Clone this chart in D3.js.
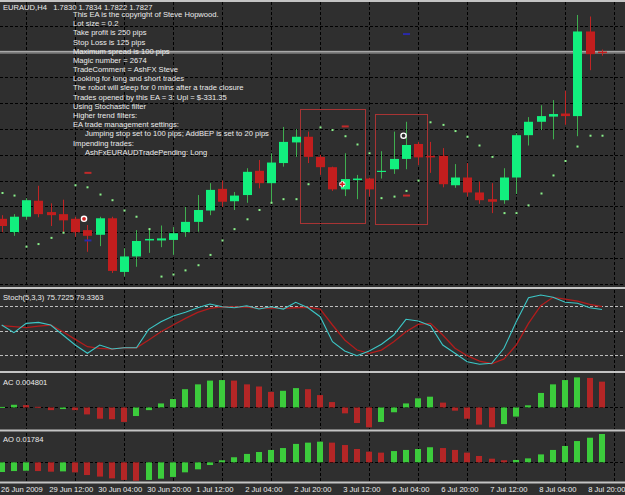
<!DOCTYPE html>
<html>
<head>
<meta charset="utf-8">
<script src="https://cdn.jsdelivr.net/npm/d3@7"></script>
<style>
  html, body { margin: 0; padding: 0; background: #2f2f2f; }
  svg { display: block; }
</style>
</head>
<body>
<div id="chart"></div>
<script>
// EURAUD H4 - MT4 style chart with EA comment, Stoch, AC and AO windows

const symbolHeader = 'EURAUD,H4\u00a0\u00a0 1.7830 1.7834 1.7822 1.7827';

const opens  = [1.7506, 1.7480, 1.7510, 1.7541, 1.7519, 1.7515, 1.7506, 1.7484, 1.7475, 1.7507,
                1.7403, 1.7433, 1.7464, 1.7464, 1.7465, 1.7480, 1.7500, 1.7522, 1.7564, 1.7540,
                1.7552, 1.7599, 1.7575, 1.7614, 1.7654, 1.7665, 1.7626, 1.7606, 1.7563, 1.7581,
                1.7584, 1.7597, 1.7602, 1.7622, 1.7651, 1.7628, 1.7628, 1.7571, 1.7586, 1.7557,
                1.7544, 1.7542, 1.7586, 1.7668, 1.7694, 1.7704, 1.7710, 1.7705, 1.7869, 1.7830];
const highs  = [1.7513, 1.7515, 1.7546, 1.7570, 1.7536, 1.7543, 1.7510, 1.7494, 1.7510, 1.7510,
                1.7449, 1.7484, 1.7487, 1.7493, 1.7490, 1.7529, 1.7552, 1.7575, 1.7580, 1.7558,
                1.7604, 1.7620, 1.7633, 1.7684, 1.7680, 1.7675, 1.7630, 1.7607, 1.7633, 1.7591,
                1.7586, 1.7637, 1.7675, 1.7694, 1.7655, 1.7655, 1.7643, 1.7612, 1.7614, 1.7578,
                1.7575, 1.7604, 1.7672, 1.7703, 1.7726, 1.7736, 1.7754, 1.7901, 1.7898, 1.7834];
const lows   = [1.7480, 1.7473, 1.7504, 1.7509, 1.7492, 1.7480, 1.7471, 1.7442, 1.7453, 1.7401,
                1.7394, 1.7413, 1.7440, 1.7451, 1.7436, 1.7471, 1.7481, 1.7513, 1.7529, 1.7523,
                1.7537, 1.7565, 1.7536, 1.7607, 1.7626, 1.7614, 1.7591, 1.7560, 1.7550, 1.7544,
                1.7549, 1.7584, 1.7593, 1.7602, 1.7610, 1.7595, 1.7567, 1.7566, 1.7549, 1.7535,
                1.7517, 1.7535, 1.7554, 1.7648, 1.7678, 1.7660, 1.7688, 1.7666, 1.7794, 1.7822];
const closes = [1.7492, 1.7510, 1.7542, 1.7515, 1.7513, 1.7503, 1.7480, 1.7473, 1.7507, 1.7405,
                1.7433, 1.7463, 1.7467, 1.7468, 1.7478, 1.7500, 1.7523, 1.7562, 1.7539, 1.7551,
                1.7597, 1.7575, 1.7615, 1.7655, 1.7665, 1.7626, 1.7606, 1.7563, 1.7583, 1.7584,
                1.7563, 1.7599, 1.7622, 1.7649, 1.7625, 1.7625, 1.7573, 1.7586, 1.7557, 1.7542,
                1.7539, 1.7586, 1.7668, 1.7694, 1.7705, 1.7709, 1.7705, 1.7869, 1.7825, 1.7827];

// green dots (trailing SAR-like levels)
const sarValues = [1.7556, 1.7551, 1.7452, 1.7457, 1.7469, 1.7479, 1.7571, 1.7567, 1.7553, 1.7542,
                   1.7522, 1.7510, 1.7486, 1.7394, 1.7398, 1.7406, 1.7416, 1.7436, 1.7464, 1.7486,
                   1.7505, 1.7523, 1.7537, 1.7544, 1.7544, 1.7573, 1.7683, 1.7678, 1.7666, 1.7650,
                   1.7633, 1.7546, 1.7549, 1.7560, 1.7580, 1.7693, 1.7688, 1.7676, 1.7665, 1.7648,
                   1.7626, 1.7517, 1.7517, 1.7532, 1.7555, 1.7590, 1.7618, 1.7646, 1.7667, 1.7667];

const stochMain   = [56.9, 47.5, 58.9, 60.1, 56.9, 44.7, 32.5, 22.4, 32.5, 27.6,
                     29.2, 29.2, 51.6, 60.9, 67.8, 72.3, 77.9, 82.4, 79.1, 77.9,
                     80.4, 76.3, 79.1, 76.3, 84.5, 77.9, 67.0, 36.5, 25.2, 19.5,
                     25.2, 33.4, 44.7, 63.8, 61.7, 56.0, 32.5, 22.4, 12.2, 9.0,
                     10.2, 28.5, 60.9, 90.1, 93.4, 90.6, 84.5, 83.3, 77.9, 75.7];
const stochSignal = [56.0, 54.8, 53.6, 55.6, 56.9, 48.7, 39.4, 30.4, 28.5, 27.6,
                     29.2, 29.2, 38.6, 48.7, 56.9, 65.0, 72.3, 77.2, 79.1, 78.8,
                     78.8, 77.2, 77.9, 77.2, 77.9, 78.5, 76.3, 56.9, 38.6, 26.4,
                     22.4, 26.4, 36.5, 48.7, 57.7, 58.9, 44.7, 28.5, 19.5, 13.0,
                     9.7, 15.5, 32.5, 58.9, 80.4, 90.6, 88.5, 86.1, 82.1, 79.3];
const stochLevels = [20, 50, 80];

const acValues = [0.0001, 0.0005, 0.00044, 0.00012, -0.0005, -0.0003, -0.0005, -0.0013, -0.0021, -0.0022,
                  -0.0027, -0.0016, -0.0005, 0.00075, 0.00156, 0.0034, 0.0043, 0.0050, 0.0051, 0.0050,
                  0.0043, 0.0039, 0.0029, 0.0031, 0.0036, 0.0034, 0.0023, 0.0010, -0.0011, -0.0029,
                  -0.0037, -0.0027, -0.0009, 0.00075, 0.0017, 0.0020, 0.0009, -0.0006, -0.0021, -0.0032,
                  -0.0037, -0.0031, -0.0017, 0.0004, 0.0027, 0.0043, 0.0051, 0.0056, 0.0055, 0.004801];
const aoValues = [-0.0061, -0.0055, -0.0053, -0.0055, -0.0059, -0.0057, -0.0063, -0.0080, -0.0090, -0.0101,
                  -0.0111, -0.0116, -0.0111, -0.0103, -0.0092, -0.0063, -0.0044, -0.0017, 0.0013, 0.0032,
                  0.0053, 0.0065, 0.0078, 0.0090, 0.0116, 0.0124, 0.0130, 0.0124, 0.0109, 0.0084,
                  0.0067, 0.0061, 0.0071, 0.0078, 0.0084, 0.0095, 0.0090, 0.0078, 0.0061, 0.0040,
                  0.0023, 0.0013, 0.0015, 0.0025, 0.0050, 0.0078, 0.0103, 0.0134, 0.0155, 0.01784];

const timeLabels = ['26 Jun 2009', '29 Jun 12:00', '30 Jun 04:00', '30 Jun 20:00', '1 Jul 12:00',
                    '2 Jul 04:00', '2 Jul 20:00', '3 Jul 12:00', '6 Jul 04:00', '6 Jul 20:00',
                    '7 Jul 12:00', '8 Jul 04:00', '8 Jul 20:00'];
const labelBars = [0, 4, 8, 12, 16, 20, 24, 28, 32, 36, 40, 44, 48];
const gridBars = [2, 6, 10, 14, 18, 22, 26, 30, 34, 38, 42, 46, 50];
const gridPrices = [1.7380, 1.7430, 1.7480, 1.7530, 1.7580, 1.7630, 1.7680, 1.7730, 1.7780, 1.7830, 1.7880];

const commentLines = [
  'This EA is the copyright of Steve Hopwood.',
  'Lot size = 0.2',
  'Take profit is 250 pips',
  'Stop Loss is 125 pips',
  'Maximum spread is 100 pips',
  'Magic number = 2674',
  'TradeComment = AshFX Steve',
  'Looking for long and short trades',
  'The robot will sleep for 0 mins after a trade closure',
  'Trades opened by this EA = 3:  Upl = $-331.35',
  'Using Stochastic filter',
  'Higher trend filters:',
  'EA trade management settings:',
  '    Jumping stop set to 100 pips; AddBEP is set to 20 pips',
  'Impending trades:',
  '    AshFxEURAUDTradePending: Long'
];

// rectangle objects drawn on the chart (bar index / price)
const boxFrom   = [24.35, 30.5];
const boxTo     = [29.65, 34.72];
const boxTop    = [1.7718, 1.7710];
const boxBottom = [1.7497, 1.7497];

// trade arrows / level marks
const markBars   = [6.72, 7, 7, 27.8, 28, 32.8, 33, 33];
const markPrices = [1.7506, 1.7595, 1.7464, 1.7573, 1.7685, 1.7667, 1.7551, 1.7864];
const markTypes  = ['ringRed', 'dashRed', 'dashBlue', 'cross', 'dashRed', 'ring', 'dashRed', 'dashBlue'];

(function() {
  const width = 625;
  const height = 495;

  // Colors
  const bg = '#2f2f2f';
  const gridColor = '#000';
  const textColor = '#ececec';
  const bullBody = '#12f07e';
  const bullWick = '#3fae4f';
  const bearBody = '#c21e1e';
  const bearWick = '#c02424';
  const histGreen = '#3ccc3c';
  const histRed = '#b42626';
  const font = '"Liberation Sans", Arial, sans-serif';
  const fontSize = '7.6px';

  // panels (top, bottom)
  const mainPanel = [0, 287];
  const stochPanel = [289.6, 371.7];
  const acPanel = [372, 430];
  const aoPanel = [432, 481.7];

  const x = d3.scaleLinear().domain([0, 49]).range([1.7, 602]);
  const yPrice = d3.scaleLinear().domain([1.73738, 1.7930]).range([mainPanel[1], mainPanel[0]]);
  const yStoch = d3.scaleLinear().domain([0, 100]).range([stochPanel[1], stochPanel[0]]);
  const yAC = d3.scaleLinear().domain([-0.0042, 0.0066]).range([acPanel[1], acPanel[0]]);
  const yAO = d3.scaleLinear().domain([-0.0122, 0.0191]).range([aoPanel[1], aoPanel[0]]);

  const crisp = v => Math.round(v) + 0.5;

  const svg = d3.select('#chart')
    .append('svg')
    .attr('width', width)
    .attr('height', height)
    .style('background', bg)
    .style('font-family', font);

  svg.append('rect')
    .attr('width', width)
    .attr('height', height)
    .attr('fill', bg);

  // Vertical grid in every window
  const windows = [[2, 286], [290, 371], [373, 429], [433, 481]];
  windows.forEach(([t, b]) => {
    svg.append('g').selectAll('line')
      .data(gridBars)
      .join('line')
      .attr('x1', d => crisp(x(d)))
      .attr('x2', d => crisp(x(d)))
      .attr('y1', t)
      .attr('y2', b)
      .attr('stroke', gridColor)
      .attr('stroke-dasharray', '3,2');
  });

  // Horizontal grid - main
  svg.append('g').selectAll('line')
    .data(gridPrices)
    .join('line')
    .attr('x1', 0)
    .attr('x2', width)
    .attr('y1', d => crisp(yPrice(d)))
    .attr('y2', d => crisp(yPrice(d)))
    .attr('stroke', gridColor)
    .attr('stroke-dasharray', '3,2');

  // Zero lines of AC / AO
  [yAC(0), yAO(0)].forEach(y0 => {
    svg.append('line')
      .attr('x1', 0).attr('x2', width)
      .attr('y1', crisp(y0)).attr('y2', crisp(y0))
      .attr('stroke', gridColor)
      .attr('stroke-dasharray', '3,2');
  });

  // Bid line
  const bid = closes[closes.length - 1];
  svg.append('line')
    .attr('x1', 0).attr('x2', width)
    .attr('y1', yPrice(bid) - 0.8).attr('y2', yPrice(bid) - 0.8)
    .attr('stroke', '#7e7e7e')
    .attr('stroke-width', 3);
  svg.append('line')
    .attr('x1', 0).attr('x2', width)
    .attr('y1', crisp(yPrice(bid) - 2)).attr('y2', crisp(yPrice(bid) - 2))
    .attr('stroke', '#a9a9a9')
    .attr('stroke-width', 1);

  // Rectangle objects
  svg.append('g').selectAll('rect')
    .data(boxFrom.map((f, i) => ({ f, t: boxTo[i], top: boxTop[i], bot: boxBottom[i] })))
    .join('rect')
    .attr('x', d => crisp(x(d.f)))
    .attr('y', d => crisp(yPrice(d.top)))
    .attr('width', d => Math.round(x(d.t) - x(d.f)))
    .attr('height', d => Math.round(yPrice(d.bot) - yPrice(d.top)))
    .attr('fill', 'none')
    .attr('stroke', '#a83434')
    .attr('stroke-width', 1);

  // Candles
  const bars = opens.map((o, i) => ({ i, o, h: highs[i], l: lows[i], c: closes[i], up: closes[i] >= o }));

  svg.append('g').selectAll('line')
    .data(bars)
    .join('line')
    .attr('x1', d => crisp(x(d.i)))
    .attr('x2', d => crisp(x(d.i)))
    .attr('y1', d => yPrice(d.h))
    .attr('y2', d => yPrice(d.l))
    .attr('stroke', d => d.up ? bullWick : bearWick)
    .attr('stroke-width', 1);

  svg.append('g').selectAll('rect')
    .data(bars)
    .join('rect')
    .attr('x', d => Math.round(x(d.i)) - 4)
    .attr('y', d => yPrice(Math.max(d.o, d.c)))
    .attr('width', 9)
    .attr('height', d => Math.max(1.2, Math.abs(yPrice(d.o) - yPrice(d.c))))
    .attr('fill', d => d.up ? bullBody : bearBody);

  // Green dots
  svg.append('g').selectAll('rect')
    .data(sarValues)
    .join('rect')
    .attr('x', (d, i) => Math.round(x(i)) - 0.5)
    .attr('y', d => yPrice(d) - 1)
    .attr('width', 2)
    .attr('height', 2)
    .attr('fill', '#8af08a');

  // Trade marks
  const marks = markBars.map((b, i) => ({ b, p: markPrices[i], t: markTypes[i] }));
  const mg = svg.append('g');
  marks.forEach(m => {
    const mx = x(m.b);
    const my = yPrice(m.p);
    if (m.t === 'dashRed' || m.t === 'dashBlue') {
      mg.append('rect')
        .attr('x', mx - 3)
        .attr('y', my - 1)
        .attr('width', 7)
        .attr('height', 2)
        .attr('fill', m.t === 'dashRed' ? '#c02a2a' : '#2a2aa8');
    } else if (m.t === 'ring' || m.t === 'ringRed') {
      mg.append('circle')
        .attr('cx', mx)
        .attr('cy', my)
        .attr('r', 2.6)
        .attr('fill', m.t === 'ringRed' ? '#d02020' : '#2f2f2f')
        .attr('stroke', '#ffffff')
        .attr('stroke-width', 1.4);
    } else if (m.t === 'cross') {
      mg.append('path')
        .attr('d', `M${mx - 3},${my}h6M${mx},${my - 3}v6`)
        .attr('stroke', '#ffffff')
        .attr('stroke-width', 3.2);
      mg.append('path')
        .attr('d', `M${mx - 2.5},${my}h5M${mx},${my - 2.5}v5`)
        .attr('stroke', '#d01c1c')
        .attr('stroke-width', 1.6);
    }
  });

  // Header and EA comment
  svg.append('text')
    .attr('x', 3)
    .attr('y', 9.5)
    .attr('fill', textColor)
    .attr('font-size', fontSize)
    .text(symbolHeader);

  svg.append('g').selectAll('text')
    .data(commentLines)
    .join('text')
    .attr('x', d => d.startsWith('    ') ? 85 : 73)
    .attr('y', (d, i) => 17 + i * 9.18)
    .attr('fill', textColor)
    .attr('font-size', fontSize)
    .text(d => d.trim());

  // Stochastic levels
  svg.append('g').selectAll('line')
    .data(stochLevels)
    .join('line')
    .attr('x1', 0).attr('x2', width)
    .attr('y1', d => crisp(yStoch(d)))
    .attr('y2', d => crisp(yStoch(d)))
    .attr('stroke', '#bdbdbd')
    .attr('stroke-dasharray', '3,2');

  const stochLine = d3.line().x((d, i) => x(i)).y(d => yStoch(d));
  svg.append('path')
    .attr('d', stochLine(stochSignal))
    .attr('fill', 'none')
    .attr('stroke', '#b21c1c')
    .attr('stroke-width', 1.3);
  svg.append('path')
    .attr('d', stochLine(stochMain))
    .attr('fill', 'none')
    .attr('stroke', '#3cc6c6')
    .attr('stroke-width', 1.1);

  // Histograms: green when value rises
  function histogram(values, y) {
    const y0 = y(0);
    svg.append('g').selectAll('rect')
      .data(values)
      .join('rect')
      .attr('x', (d, i) => Math.round(x(i)) - 3)
      .attr('y', d => Math.min(y(d), y0))
      .attr('width', 6)
      .attr('height', d => Math.max(1, Math.abs(y(d) - y0)))
      .attr('fill', (d, i) => (i === 0 || d > values[i - 1]) ? histGreen : histRed);
  }
  histogram(acValues, yAC);
  histogram(aoValues, yAO);

  // Window labels
  const windowLabels = [
    ['Stoch(5,3,3) 75.7225 79.3363', stochPanel[0] + 10.5],
    ['AC 0.004801', acPanel[0] + 13],
    ['AO 0.01784', aoPanel[0] + 10]
  ];
  windowLabels.forEach(([t, y]) => {
    svg.append('text')
      .attr('x', 3)
      .attr('y', y)
      .attr('fill', textColor)
      .attr('font-size', fontSize)
      .text(t);
  });

  // Window separators
  [0, 287, 371, 429.5, 481.5].forEach(y => {
    svg.append('rect')
      .attr('x', 0)
      .attr('y', y)
      .attr('width', width)
      .attr('height', 2)
      .attr('fill', '#c4c4c4');
  });

  // Time axis
  svg.append('g').selectAll('text')
    .data(timeLabels)
    .join('text')
    .attr('x', (d, i) => i === 0 ? 1 : x(labelBars[i]) - 1.5)
    .attr('y', 492)
    .attr('fill', textColor)
    .attr('font-size', fontSize)
    .text(d => d);
})();
</script>
</body>
</html>
